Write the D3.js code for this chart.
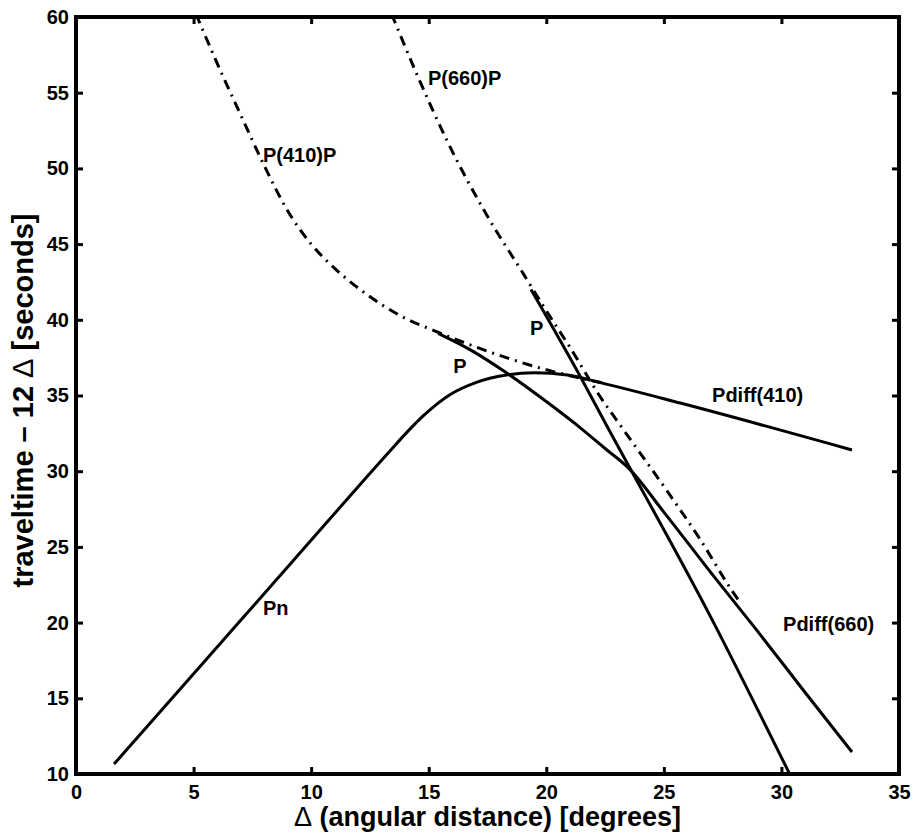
<!DOCTYPE html>
<html>
<head>
<meta charset="utf-8">
<script src="https://cdn.jsdelivr.net/npm/d3@7"></script>
<style>
  body { margin: 0; background: #fff; }
  text { font-family: "Liberation Sans", Arial, Helvetica, sans-serif; font-weight: bold; fill: #000; }
</style>
</head>
<body>
<div id="chart"></div>
<script>
// traveltime curves (reduced time vs distance)
const pnX = [1.62, 5.5, 9.3, 13.36, 14.0, 14.8, 15.9, 17.0, 18.3, 19.5, 20.9, 22.3, 25.7, 33.0];
const pnY = [10.66, 17.5, 24.2, 31.35, 32.45, 33.7, 35.05, 35.85, 36.35, 36.5, 36.35, 35.85, 34.5, 31.4];

const p410X = [15.4, 16.9, 18.4, 20.0, 21.5, 22.5, 23.5, 25.0, 27.0, 29.0, 31.0, 33.0];
const p410Y = [39.1, 37.9, 36.4, 34.6, 32.8, 31.5, 30.2, 27.3, 23.3, 19.4, 15.4, 11.45];

const p660X = [19.35, 21.5, 22.4, 27.05, 30.35];
const p660Y = [42.0, 36.1, 33.5, 20.2, 10.0];

const pp410X = [5.1, 6.0, 7.0, 8.0, 9.0, 10.0, 11.0, 12.0, 13.0, 14.0, 15.2, 16.5, 18.3, 20.0, 21.3, 22.5];
const pp410Y = [60.2, 56.95, 53.55, 50.2, 47.2, 45.0, 43.4, 42.1, 41.0, 40.1, 39.3, 38.5, 37.5, 36.7, 36.2, 35.8];

const pp660X = [13.42, 14.5, 15.82, 17.4, 19.0, 20.0, 21.0, 22.3, 23.14, 25.27, 26.5, 27.9, 28.3];
const pp660Y = [60.2, 56.2, 51.7, 47.1, 43.1, 40.6, 38.2, 34.9, 33.05, 28.4, 25.6, 22.1, 21.2];

const xTicks = [0, 5, 10, 15, 20, 25, 30, 35];
const yTicks = [10, 15, 20, 25, 30, 35, 40, 45, 50, 55, 60];

const labelText = ["P(660)P", "P(410)P", "P", "P", "Pn", "Pdiff(410)", "Pdiff(660)"];
const labelX = [14.97, 7.95, 16.04, 19.31, 7.95, 27.05, 30.07];
const labelY = [55.5, 50.4, 36.5, 39.0, 20.5, 34.55, 19.45];

const margin = { top: 17, right: 14, bottom: 59, left: 76 },
  width = 913 - margin.left - margin.right,
  height = 833 - margin.top - margin.bottom;

const svg = d3.select("#chart")
  .append("svg")
  .attr("width", 913)
  .attr("height", 833)
  .append("g")
  .attr("transform", `translate(${margin.left},${margin.top})`);

const x = d3.scaleLinear().domain([0, 35]).range([0, width]);
const y = d3.scaleLinear().domain([10, 60]).range([height, 0]);

svg.append("clipPath").attr("id", "clip")
  .append("rect").attr("width", width).attr("height", height);

const line = d3.line()
  .x(d => x(d[0]))
  .y(d => y(d[1]))
  .curve(d3.curveMonotoneX);

function draw(xs, ys, dash) {
  svg.append("path")
    .datum(xs.map((v, i) => [v, ys[i]]))
    .attr("clip-path", "url(#clip)")
    .attr("fill", "none")
    .attr("stroke", "#000")
    .attr("stroke-width", 3)
    .attr("stroke-dasharray", dash)
    .attr("d", line);
}

draw(pnX, pnY, null);
draw(p410X, p410Y, null);
draw(p660X, p660Y, null);
draw(pp410X, pp410Y, "10,6,2,6");
draw(pp660X, pp660Y, "10,6,2,6");

// axes, ticks inward on all four sides
const tickStyle = g => {
  g.select(".domain").remove();
  g.selectAll(".tick line").attr("stroke", "#000").attr("stroke-width", 3);
  g.selectAll(".tick text").style("font-size", "20px");
};

svg.append("g")
  .attr("transform", `translate(0,${height})`)
  .call(d3.axisBottom(x).tickValues(xTicks).tickSizeInner(-7).tickPadding(11))
  .call(tickStyle);

svg.append("g")
  .call(d3.axisTop(x).tickValues(xTicks).tickSizeInner(-7).tickFormat(""))
  .call(tickStyle);

svg.append("g")
  .call(d3.axisLeft(y).tickValues(yTicks).tickSizeInner(-7).tickPadding(7))
  .call(tickStyle);

svg.append("g")
  .attr("transform", `translate(${width},0)`)
  .call(d3.axisRight(y).tickValues(yTicks).tickSizeInner(-7).tickFormat(""))
  .call(tickStyle);

svg.append("rect")
  .attr("width", width)
  .attr("height", height)
  .attr("fill", "none")
  .attr("stroke", "#000")
  .attr("stroke-width", 4);

// curve labels
svg.selectAll(".lab")
  .data(labelText)
  .join("text")
  .attr("class", "lab")
  .attr("x", (d, i) => x(labelX[i]))
  .attr("y", (d, i) => y(labelY[i]))
  .style("font-size", "20px")
  .text(d => d);

// axis titles
const xt = svg.append("text")
  .attr("x", width / 2)
  .attr("y", height + 52)
  .attr("text-anchor", "middle")
  .style("font-size", "27px");
xt.append("tspan").style("font-weight", "normal").text("\u0394");
xt.append("tspan").text(" (angular distance) [degrees]");

const yt = svg.append("text")
  .attr("transform", `translate(${-43},${height / 2 + 5}) rotate(-90)`)
  .attr("text-anchor", "middle")
  .style("font-size", "29px");
yt.append("tspan").text("traveltime \u2013 12 ");
yt.append("tspan").style("font-weight", "normal").text("\u0394");
yt.append("tspan").text(" [seconds]");
</script>
</body>
</html>
